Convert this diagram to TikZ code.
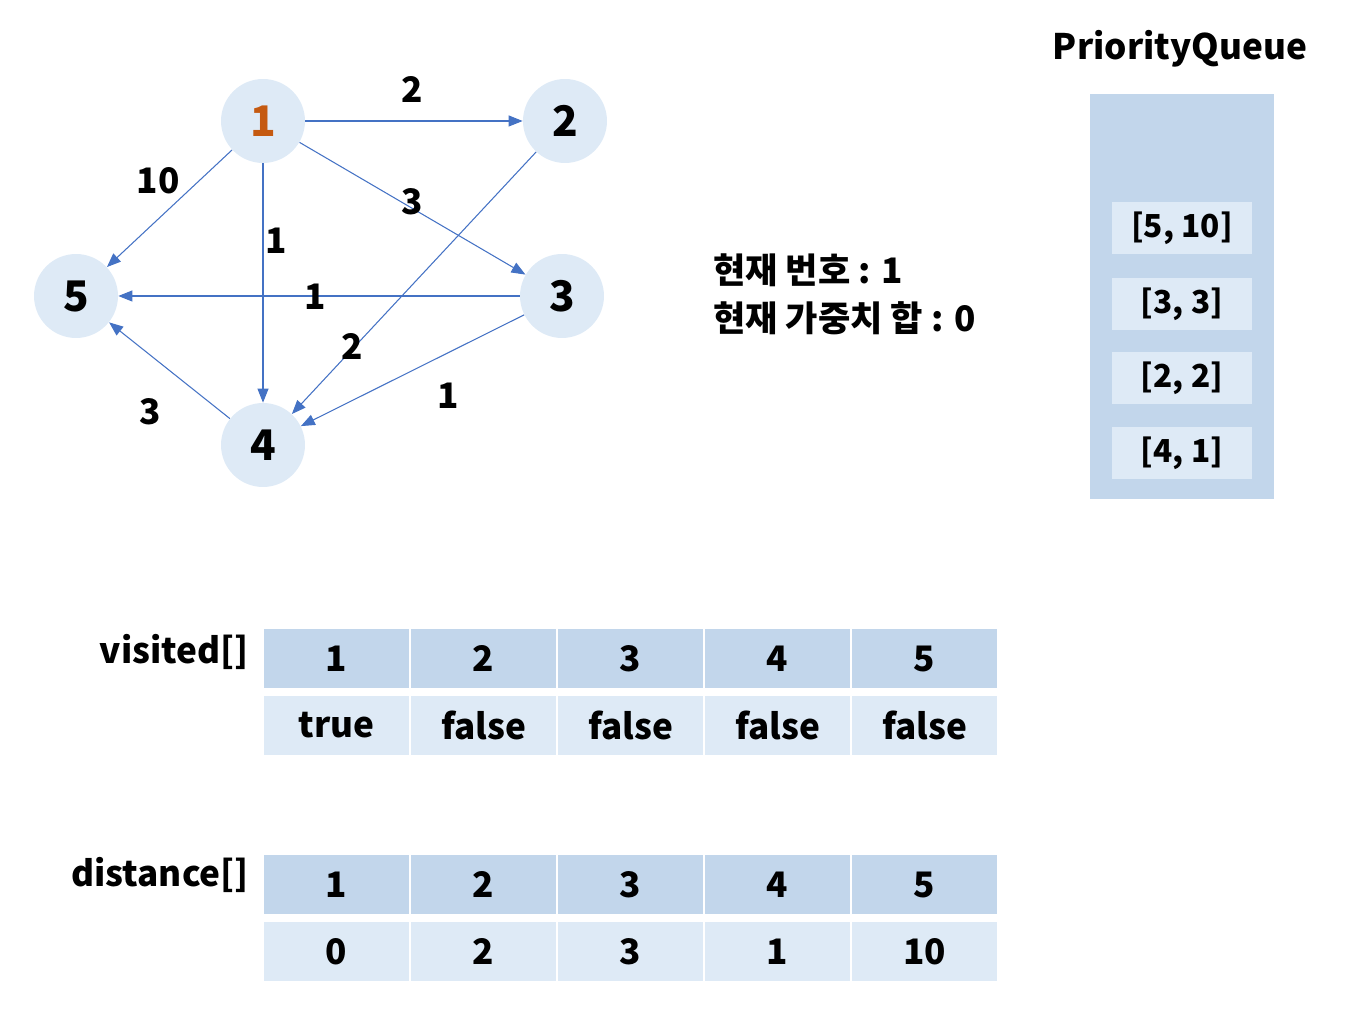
\documentclass[tikz,border=0pt]{standalone}
\usepackage{fontspec}
\setmainfont{Noto Sans CJK KR}
\usetikzlibrary{arrows.meta}

\definecolor{nodefill}{RGB}{222,234,246}
\definecolor{headfill}{RGB}{194,214,235}
\definecolor{cellfill}{RGB}{222,234,246}
\definecolor{edgeblue}{RGB}{68,114,196}
\definecolor{startorange}{RGB}{197,90,17}

\begin{document}
\begin{tikzpicture}[
  x=0.02cm, y=-0.02cm,
  vtx/.style={circle, fill=nodefill, minimum size=1.68cm, inner sep=0pt, font=\bfseries\fontsize{24}{24}\selectfont},
  edge/.style={draw=edgeblue, line width=0.6pt, -{Triangle[length=0.28cm, width=0.22cm]}},
  lb/.style={font=\bfseries\fontsize{20}{20}\selectfont},
  head/.style={fill=headfill, minimum width=2.9cm, minimum height=1.18cm, inner sep=0pt, font=\bfseries\fontsize{20}{20}\selectfont},
  cell/.style={fill=cellfill, minimum width=2.9cm, minimum height=1.18cm, inner sep=0pt, font=\bfseries\fontsize{20}{20}\selectfont},
  qcell/.style={fill=cellfill, minimum width=2.82cm, minimum height=1.04cm, inner sep=0pt, font=\bfseries\fontsize{18}{18}\selectfont},
]
\useasboundingbox (0,0) rectangle (1350,1026);

% graph
\node[vtx, text=startorange] (v1) at (263,121) {1};
\node[vtx] (v2) at (565,121) {2};
\node[vtx] (v3) at (562,296) {3};
\node[vtx] (v4) at (263,445) {4};
\node[vtx] (v5) at (76,296) {5};

\draw[edge] (v1) -- (v2);
\draw[edge] (v1) -- (v5);
\draw[edge] (v1) -- (v4);
\draw[edge] (v1) -- (v3);
\draw[edge] (v2) -- (v4);
\draw[edge] (v3) -- (v5);
\draw[edge] (v3) -- (v4);
\draw[edge] (v4) -- (v5);

\node[lb] (w12) at (412,90) {2};
\node[lb] (w15) at (158,181) {10};
\node[lb] (w14) at (276,241) {1};
\node[lb] (w13) at (412,202) {3};
\node[lb] (w24) at (352,347) {2};
\node[lb] (w35) at (315,297) {1};
\node[lb] (w34) at (448,396) {1};
\node[lb] (w45) at (150,412) {3};

% current state
\node[lb, anchor=west] (cur) at (707,270) {현재 번호 : 1};
\node[lb, anchor=west] (sum) at (707,318) {현재 가중치 합 : 0};

% priority queue
\node[lb] (pqtitle) at (1180,49) {PriorityQueue};
\node[fill=headfill, minimum width=3.68cm, minimum height=8.1cm, inner sep=0pt] (pq) at (1182,296.5) {};
\node[qcell] (q1) at (1182,228) {[5, 10]};
\node[qcell] (q2) at (1182,304) {[3, 3]};
\node[qcell] (q3) at (1182,378.5) {[2, 2]};
\node[qcell] (q4) at (1182,453) {[4, 1]};

% visited[]
\node[lb, anchor=east] (vislabel) at (255,652) {visited[]};
\node[head] (vh1) at (336.5,658.5) {1}; \node[cell] (vv1) at (336.5,725.5) {true};
\node[head] (vh2) at (483.5,658.5) {2}; \node[cell] (vv2) at (483.5,725.5) {false};
\node[head] (vh3) at (630.5,658.5) {3}; \node[cell] (vv3) at (630.5,725.5) {false};
\node[head] (vh4) at (777.5,658.5) {4}; \node[cell] (vv4) at (777.5,725.5) {false};
\node[head] (vh5) at (924.5,658.5) {5}; \node[cell] (vv5) at (924.5,725.5) {false};

% distance[]
\node[lb, anchor=east] (distlabel) at (255,875) {distance[]};
\node[head] (dh1) at (336.5,884.5) {1}; \node[cell] (dv1) at (336.5,951.5) {0};
\node[head] (dh2) at (483.5,884.5) {2}; \node[cell] (dv2) at (483.5,951.5) {2};
\node[head] (dh3) at (630.5,884.5) {3}; \node[cell] (dv3) at (630.5,951.5) {3};
\node[head] (dh4) at (777.5,884.5) {4}; \node[cell] (dv4) at (777.5,951.5) {1};
\node[head] (dh5) at (924.5,884.5) {5}; \node[cell] (dv5) at (924.5,951.5) {10};
\end{tikzpicture}
\end{document}
